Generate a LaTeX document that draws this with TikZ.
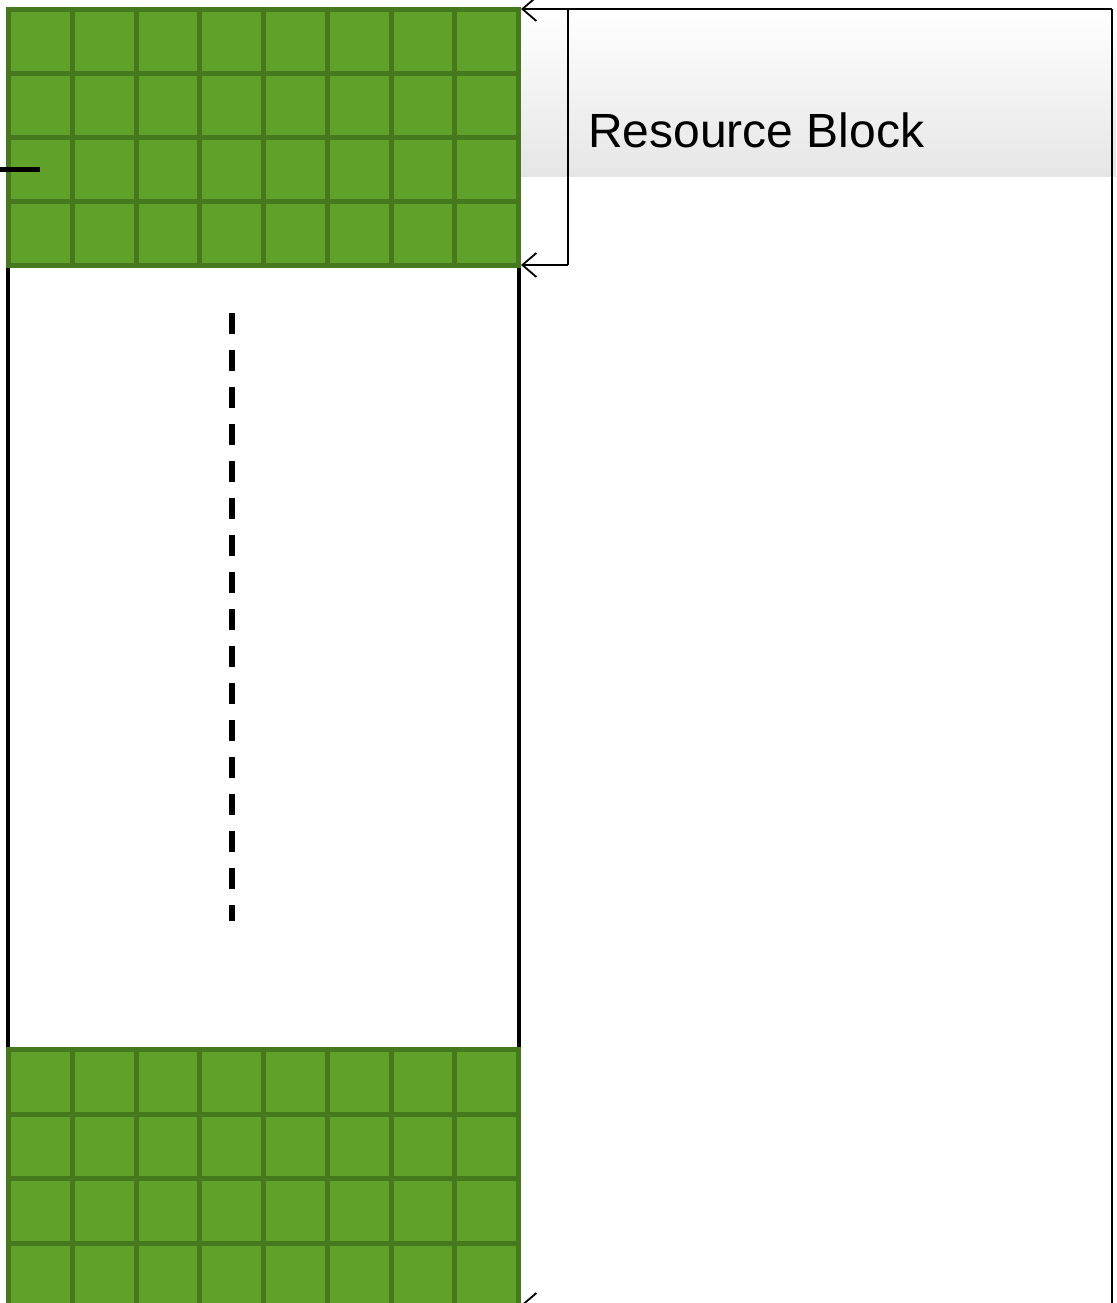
\documentclass[tikz,border=0pt]{standalone}
\usepackage{fontspec}
\setmainfont{Liberation Sans}
\usetikzlibrary{arrows.meta}
\definecolor{rbfill}{RGB}{96,161,41}
\definecolor{rbedge}{RGB}{70,121,29}
\definecolor{bandgray}{RGB}{230,230,230}
\tikzset{
  frameline/.style={draw=black, line width=4pt},
  conn/.style={draw=black, line width=1.8pt, -{Straight Barb[length=14pt,width=24pt,line width=1.8pt]}},
  plainconn/.style={draw=black, line width=1.8pt},
}
\begin{document}
\begin{tikzpicture}[x=1pt,y=-1pt]
\useasboundingbox (0,0) rectangle (1116,1303);
\clip (0,0) rectangle (1116,1303);
% gradient band behind label
\shade[top color=white, bottom color=bandgray] (521,10) rectangle (1116,176);
% frame between the two resource blocks
\draw[frameline] (8,265) -- (8,1049);
\draw[frameline] (519,265) -- (519,1049);
% top resource block grid
\node[draw=none, inner sep=0pt, minimum width=515pt, minimum height=260pt, anchor=north west] (rbtop) at (6,7) {};
\fill[rbfill] (6,7) rectangle (521,267);
\foreach \i in {0,...,8} {\draw[rbedge, line width=5pt] (8.5+\i*63.75,7) -- (8.5+\i*63.75,267);}
\foreach \j in {0,...,4} {\draw[rbedge, line width=5pt] (6,9.5+\j*64) -- (521,9.5+\j*64);}
% bottom resource block grid
\node[draw=none, inner sep=0pt, minimum width=515pt, minimum height=260pt, anchor=north west] (rbbot) at (6,1047) {};
\fill[rbfill] (6,1047) rectangle (521,1310);
\foreach \i in {0,...,8} {\draw[rbedge, line width=5pt] (8.5+\i*63.75,1047) -- (8.5+\i*63.75,1310);}
\foreach \j in {0,...,4} {\draw[rbedge, line width=5pt] (6,1049.5+\j*64.5) -- (521,1049.5+\j*64.5);}
% left tick
\coordinate (tickL) at (0,169);
\coordinate (tickR) at (40,169);
\draw[black, line width=5pt] (tickL) -- (tickR);
% dashed continuation
\coordinate (dashA) at (232,313);
\coordinate (dashB) at (232,921);
\draw[black, line width=6pt, dash pattern=on 21pt off 16pt] (dashA) -- (dashB);
% label
\node[anchor=base west, inner sep=0pt, font=\fontsize{48}{56}\selectfont] (label) at (588,147) {Resource Block};
% connectors
\coordinate (tr) at (1112,9);
\coordinate (br) at (1112,1305);
\coordinate (topTip) at (521,9);
\coordinate (midTip) at (521,265);
\coordinate (brk) at (568,9);
\coordinate (brkB) at (568,265);
\coordinate (botTip) at (521,1305);
\draw[plainconn] (tr) -- (br);
\draw[conn] (tr) -- (topTip);
\draw[plainconn] (brk) -- (brkB);
\draw[conn] (brkB) -- (midTip);
\draw[conn] (br) -- (botTip);
\end{tikzpicture}
\end{document}
